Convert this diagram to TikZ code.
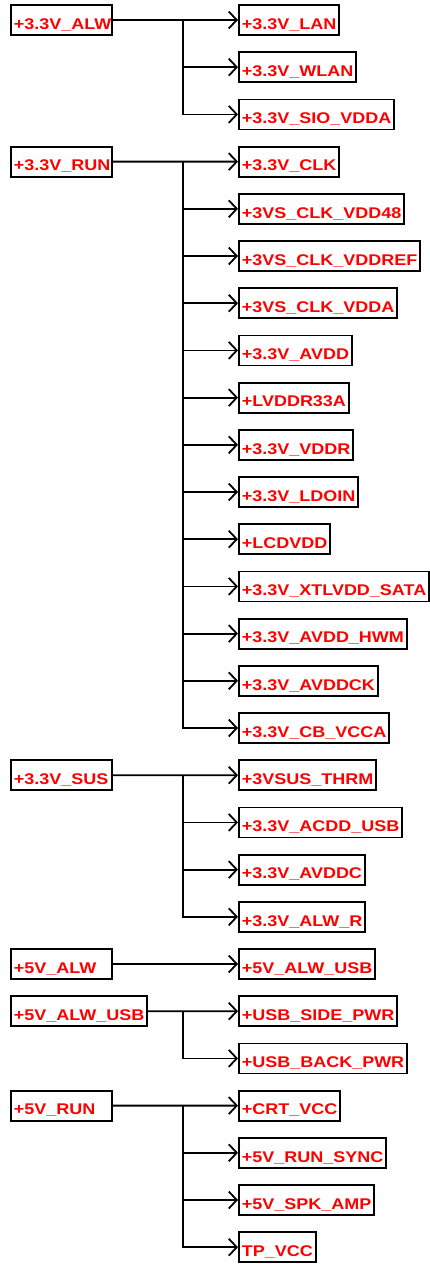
\documentclass[tikz,border=0pt]{standalone}
\usepackage{fontspec}
\usepackage{xcolor}
\usepackage{tikz}
\usetikzlibrary{arrows.meta,positioning}
\newfontfamily\netfont{Liberation Sans}[FakeStretch=1.16]

\begin{document}
\begin{tikzpicture}[
    x=1pt, y=-1pt,
    node distance=15.4pt,
    railbox/.style={rectangle, draw, line width=1.8pt, inner xsep=3pt, inner ysep=0pt,
        text height=24.3pt, text depth=5.7pt, text=red, anchor=west,
        font=\netfont\bfseries\fontsize{15.5}{18}\selectfont},
    srcbox/.style={railbox, text width=95pt, align=left},
    arrow/.style={-{Straight Barb[length=8pt,width=17pt]}, line width=1.8pt}
]
\useasboundingbox (0,0) rectangle (430,1264);

% trunk position
\coordinate (tx) at (183,0);

% +3.3V_ALW
\node[srcbox] (alw) at (10,20) {+3.3V\_ALW};
\node[railbox] (lan) at (238,20) {+3.3V\_LAN};
\node[railbox, below=of lan.south west, anchor=north west] (wlan) {+3.3V\_WLAN};
\node[railbox, below=of wlan.south west, anchor=north west] (siovdda) {+3.3V\_SIO\_VDDA};

% +3.3V_RUN
\node[srcbox] (run) at (10,161.6) {+3.3V\_RUN};
\node[railbox, below=of siovdda.south west, anchor=north west] (clk) {+3.3V\_CLK};
\node[railbox, below=of clk.south west, anchor=north west] (vdd48) {+3VS\_CLK\_VDD48};
\node[railbox, below=of vdd48.south west, anchor=north west] (vddref) {+3VS\_CLK\_VDDREF};
\node[railbox, below=of vddref.south west, anchor=north west] (clkvdda) {+3VS\_CLK\_VDDA};
\node[railbox, below=of clkvdda.south west, anchor=north west] (avdd) {+3.3V\_AVDD};
\node[railbox, below=of avdd.south west, anchor=north west] (lvddr) {+LVDDR33A};
\node[railbox, below=of lvddr.south west, anchor=north west] (vddr) {+3.3V\_VDDR};
\node[railbox, below=of vddr.south west, anchor=north west] (ldoin) {+3.3V\_LDOIN};
\node[railbox, below=of ldoin.south west, anchor=north west] (lcdvdd) {+LCDVDD};
\node[railbox, below=of lcdvdd.south west, anchor=north west] (sata) {+3.3V\_XTLVDD\_SATA};
\node[railbox, below=of sata.south west, anchor=north west] (hwm) {+3.3V\_AVDD\_HWM};
\node[railbox, below=of hwm.south west, anchor=north west] (avddck) {+3.3V\_AVDDCK};
\node[railbox, below=of avddck.south west, anchor=north west] (cbvcca) {+3.3V\_CB\_VCCA};

% +3.3V_SUS
\node[srcbox] (sus) at (10,775.2) {+3.3V\_SUS};
\node[railbox, below=of cbvcca.south west, anchor=north west] (thrm) {+3VSUS\_THRM};
\node[railbox, below=of thrm.south west, anchor=north west] (acddusb) {+3.3V\_ACDD\_USB};
\node[railbox, below=of acddusb.south west, anchor=north west] (avddc) {+3.3V\_AVDDC};
\node[railbox, below=of avddc.south west, anchor=north west] (alwr) {+3.3V\_ALW\_R};

% +5V_ALW
\node[srcbox] (alwfive) at (10,964) {+5V\_ALW};
\node[railbox, below=of alwr.south west, anchor=north west] (alwusb) {+5V\_ALW\_USB};

% +5V_ALW_USB
\node[railbox] (usbsrc) at (10,1011.2) {+5V\_ALW\_USB};
\node[railbox, below=of alwusb.south west, anchor=north west] (sidepwr) {+USB\_SIDE\_PWR};
\node[railbox, below=of sidepwr.south west, anchor=north west] (backpwr) {+USB\_BACK\_PWR};

% +5V_RUN
\node[srcbox] (runfive) at (10,1105.6) {+5V\_RUN};
\node[railbox, below=of backpwr.south west, anchor=north west] (crtvcc) {+CRT\_VCC};
\node[railbox, below=of crtvcc.south west, anchor=north west] (runsync) {+5V\_RUN\_SYNC};
\node[railbox, below=of runsync.south west, anchor=north west] (spkamp) {+5V\_SPK\_AMP};
\node[railbox, below=of spkamp.south west, anchor=north west] (tpvcc) {TP\_VCC};

% Arrows
\draw[arrow] (alw.east) -- (lan.west);
\draw[arrow] (alw.east -| tx) |- (wlan.west);
\draw[arrow] (alw.east -| tx) |- (siovdda.west);

\draw[arrow] (run.east) -- (clk.west);
\foreach \n in {vdd48,vddref,clkvdda,avdd,lvddr,vddr,ldoin,lcdvdd,sata,hwm,avddck,cbvcca}
    \draw[arrow] (run.east -| tx) |- (\n.west);

\draw[arrow] (sus.east) -- (thrm.west);
\foreach \n in {acddusb,avddc,alwr}
    \draw[arrow] (sus.east -| tx) |- (\n.west);

\draw[arrow] (alwfive.east) -- (alwusb.west);

\draw[arrow] (usbsrc.east) -- (sidepwr.west);
\draw[arrow] (usbsrc.east -| tx) |- (backpwr.west);

\draw[arrow] (runfive.east) -- (crtvcc.west);
\foreach \n in {runsync,spkamp,tpvcc}
    \draw[arrow] (runfive.east -| tx) |- (\n.west);

\end{tikzpicture}
\end{document}
